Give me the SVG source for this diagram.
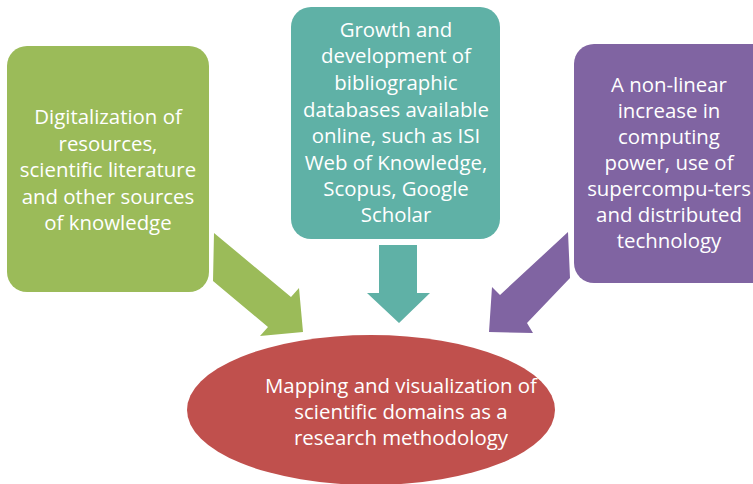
<svg xmlns="http://www.w3.org/2000/svg" width="753" height="484" viewBox="0 0 753 484">
<style>
text{font-family:"Open Sans","Liberation Sans",sans-serif;font-size:20.4px;fill:#ffffff;text-anchor:middle}
.g{fill:#9BBB59}.t{fill:#5FB1A6}.p{fill:#8064A2}.r{fill:#C0504D}
</style>
<rect width="753" height="484" fill="#ffffff"/>
<g id="connectors">
<polygon class="g" points="214,233 291,297 299,288 303,332 260,336 268,327 213,281"/>
<polygon class="t" points="379,245 417,245 417,293 430,293 399,323 367,293 379,293"/>
<polygon class="p" points="568,232 500,295 492,287 489,332 533,333 527,323 570,278"/>
</g>
<g id="node-digitalization">
<rect class="g" x="7" y="46" width="202" height="246" rx="20"/>
<text x="108" y="124">Digitalization of</text>
<text x="108" y="151">resources,</text>
<text x="108" y="177">scientific literature</text>
<text x="108" y="204">and other sources</text>
<text x="108" y="230">of knowledge</text>
</g>
<g id="node-databases">
<rect class="t" x="291" y="7" width="209" height="232" rx="20"/>
<text x="396" y="37">Growth and</text>
<text x="396" y="63">development of</text>
<text x="396" y="90">bibliographic</text>
<text x="396" y="117">databases available</text>
<text x="396" y="143">online, such as ISI</text>
<text x="396" y="170">Web of Knowledge,</text>
<text x="396" y="196">Scopus, Google</text>
<text x="396" y="222">Scholar</text>
</g>
<g id="node-computing">
<rect class="p" x="574" y="44" width="200" height="239" rx="20"/>
<text x="669" y="92">A non-linear</text>
<text x="669" y="118">increase in</text>
<text x="669" y="144">computing</text>
<text x="669" y="170">power, use of</text>
<text x="669" y="196">supercompu-ters</text>
<text x="669" y="222">and distributed</text>
<text x="669" y="248">technology</text>
</g>
<g id="node-mapping">
<ellipse class="r" cx="371" cy="410" rx="184" ry="75"/>
<text x="401" y="393">Mapping and visualization of</text>
<text x="401" y="419">scientific domains as a</text>
<text x="401" y="445">research methodology</text>
</g>
</svg>
